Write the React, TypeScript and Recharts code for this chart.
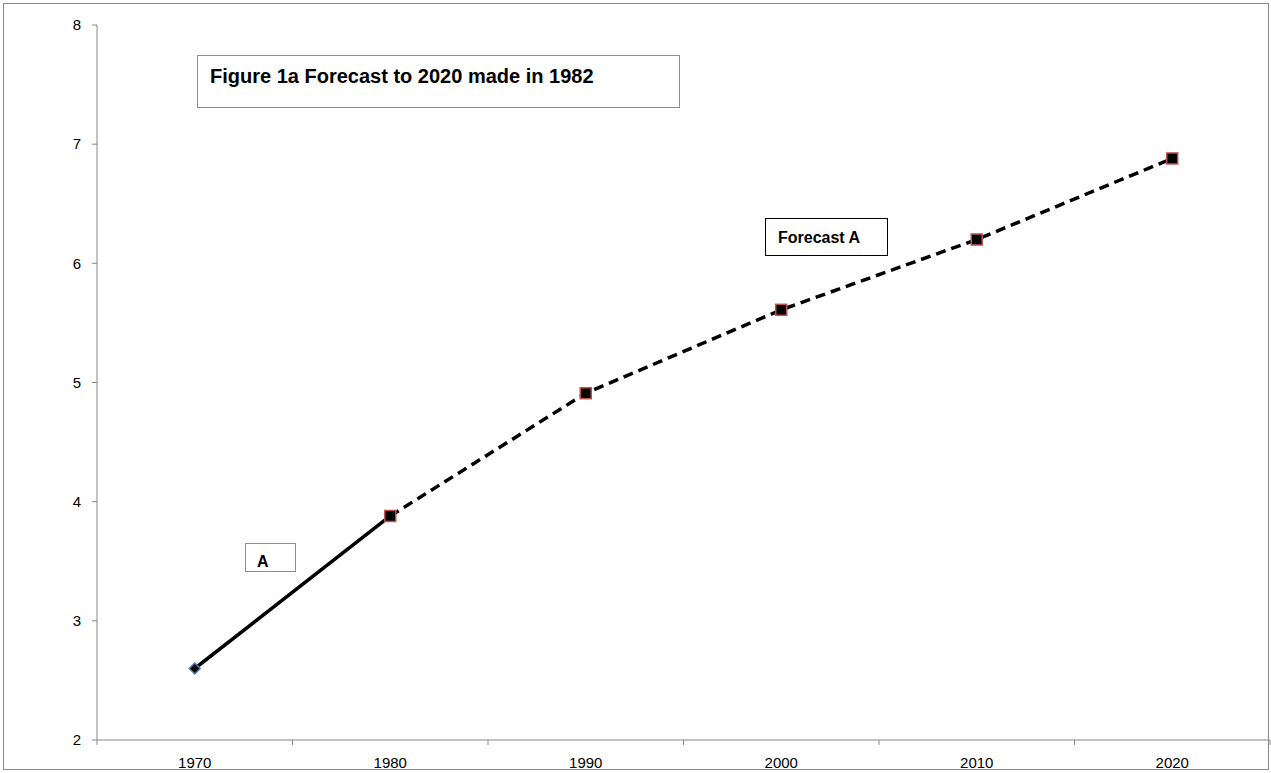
import React from 'react';
import { LineChart, Line, XAxis, YAxis } from 'recharts';

const years = [1970, 1980, 1990, 2000, 2010, 2020];
const actualA = [2.6, 3.88, null, null, null, null];
const forecastA = [null, 3.88, 4.91, 5.61, 6.2, 6.88];
const xTicks = [1965, 1970, 1975, 1980, 1985, 1990, 1995, 2000, 2005, 2010, 2015, 2020, 2025];
const yTicks = [2, 3, 4, 5, 6, 7, 8];

const FONT = '"Liberation Sans", Arial, sans-serif';
const AXIS = '#868686';

const data = years.map((year, i) => ({ year, actual: actualA[i], forecast: forecastA[i] }));

// labels on the decades, small tick marks half-way between them
function YearTick(props: any) {
  const { x, y, payload } = props;
  const v = payload.value;
  if (v % 10 === 0) {
    return (
      <text x={x} y={y} dy="0.71em" textAnchor="middle" fontSize={15} fontFamily={FONT} fill="#000">
        {v}
      </text>
    );
  }
  const axisY = y - 17;
  return <line x1={x} x2={x} y1={axisY} y2={axisY + 5} stroke={AXIS} strokeWidth={1} />;
}

function DiamondDot(props: any) {
  const { cx, cy, index, value } = props;
  if (index !== 0 || value == null || cx == null) return <g key={'a' + index} />;
  const r = 5.5;
  return (
    <path
      key={'a' + index}
      d={`M${cx},${cy - r}L${cx + r},${cy}L${cx},${cy + r}L${cx - r},${cy}Z`}
      fill="#000"
      stroke="#4f81bd"
      strokeWidth={1.5}
    />
  );
}

function SquareDot(props: any) {
  const { cx, cy, index, value } = props;
  if (value == null || cx == null) return <g key={'f' + index} />;
  return (
    <rect key={'f' + index} x={cx - 5.5} y={cy - 5.5} width={11} height={11} fill="#000" stroke="#c0504d" strokeWidth={1.5} />
  );
}

export default function App() {
  return (
    <div style={{ position: 'absolute', left: 0, top: 0, width: 1271, height: 773, background: '#fff' }}>
      <LineChart width={1271} height={773} data={data} margin={{ top: 25, right: 1, bottom: 0, left: 0 }}>
        <XAxis
          dataKey="year"
          type="number"
          domain={[1965, 2025]}
          ticks={xTicks}
          interval={0}
          height={33}
          tickLine={false}
          tickSize={5}
          tickMargin={12}
          stroke={AXIS}
          tick={(p: any) => <YearTick {...p} />}
        />
        <YAxis
          type="number"
          domain={[2, 8]}
          ticks={yTicks}
          interval={0}
          width={97}
          tickSize={5}
          tickMargin={11}
          stroke={AXIS}
          tick={{ fill: '#000', fontSize: 15, fontFamily: FONT }}
        />
        <Line
          dataKey="actual"
          stroke="#000"
          strokeWidth={3.5}
          dot={(p: any) => <DiamondDot {...p} />}
          activeDot={false}
          isAnimationActive={false}
        />
        <Line
          dataKey="forecast"
          stroke="#000"
          strokeWidth={3.5}
          strokeDasharray="10 6"
          dot={(p: any) => <SquareDot {...p} />}
          activeDot={false}
          isAnimationActive={false}
        />
      </LineChart>
      <svg width={1271} height={773} style={{ position: 'absolute', left: 0, top: 0, pointerEvents: 'none' }}>
        <rect x={3.5} y={3.5} width={1265} height={766} fill="none" stroke="#898989" strokeWidth={1} />
        <rect x={197.5} y={55.5} width={482} height={52} fill="#fff" stroke="#6f93c8" strokeWidth={1} />
        <text x={210} y={83} fontFamily={FONT} fontWeight="bold" fontSize={20} fill="#000">
          Figure 1a Forecast to 2020 made in 1982
        </text>
        <rect x={245.5} y={543.5} width={50} height={28} fill="#fff" stroke="#6f93c8" strokeWidth={1} />
        <text x={257} y={567} fontFamily={FONT} fontWeight="bold" fontSize={16} fill="#000">
          A
        </text>
        <rect x={765.5} y={218.5} width={122} height={37} fill="#fff" stroke="#000" strokeWidth={1} />
        <text x={778} y={243} fontFamily={FONT} fontWeight="bold" fontSize={16} fill="#000">
          Forecast A
        </text>
      </svg>
    </div>
  );
}
